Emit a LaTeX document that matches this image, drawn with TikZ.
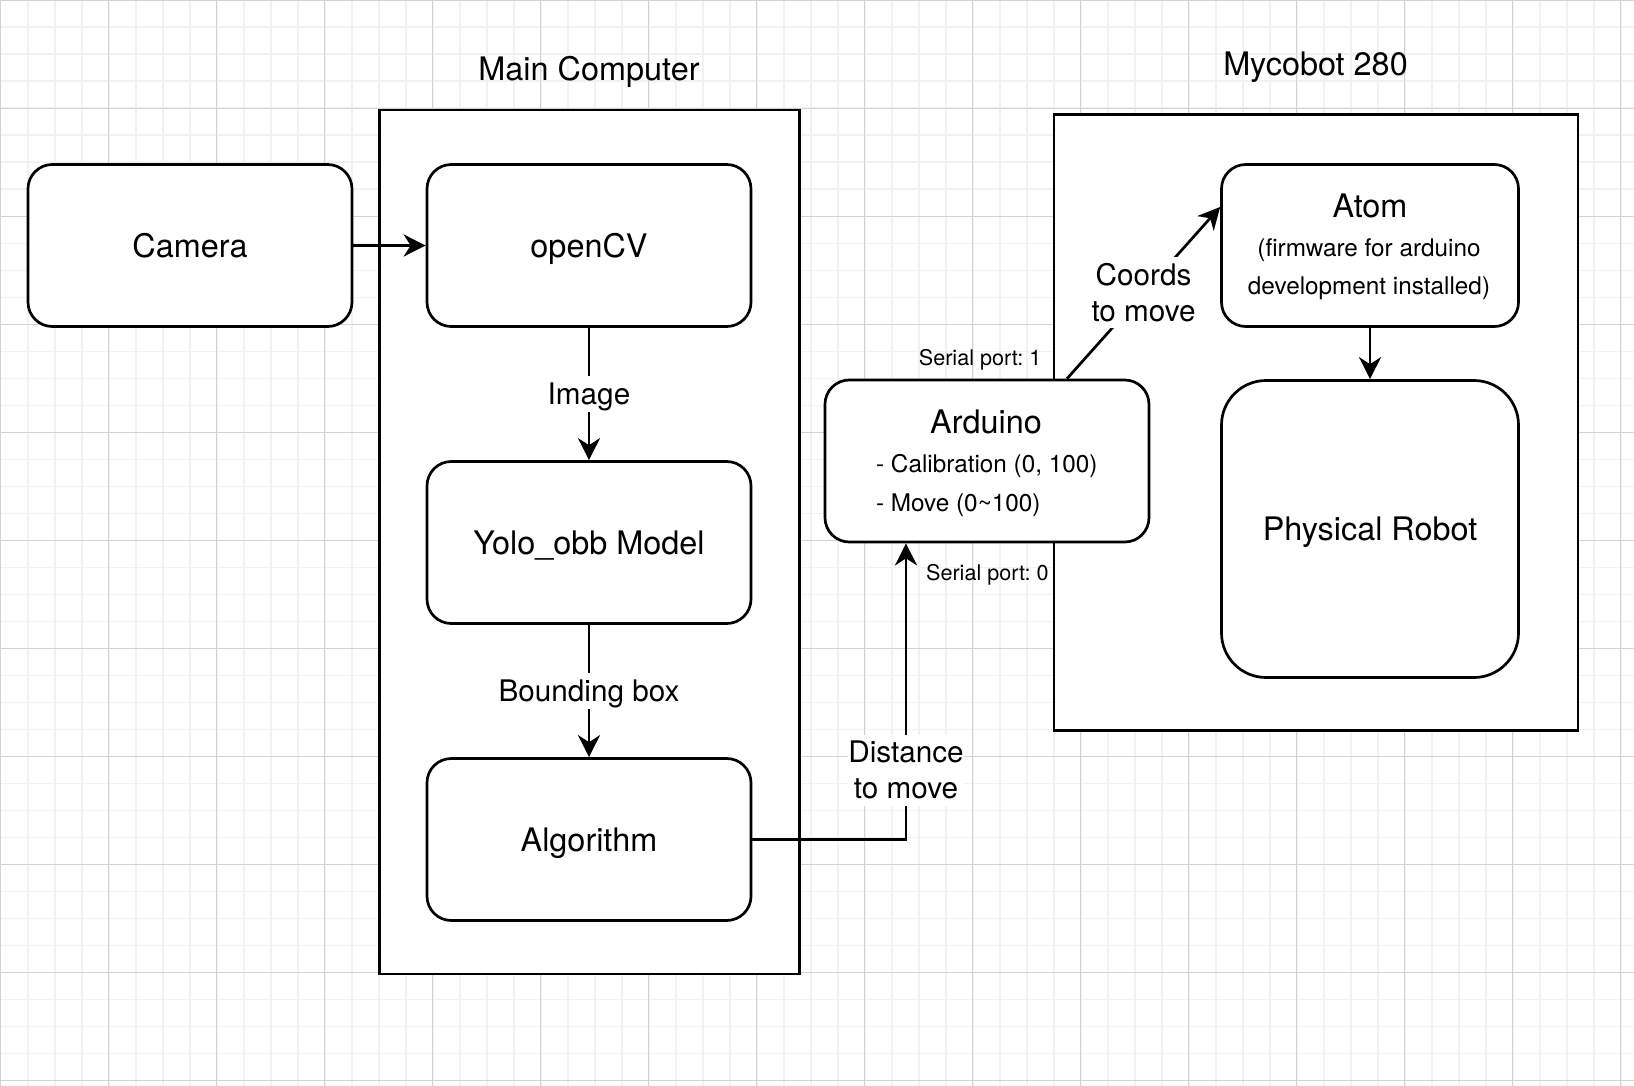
\documentclass[tikz,border=0pt]{standalone}
\usepackage{fontspec}
\setmainfont{TeX Gyre Heros}
\usetikzlibrary{arrows.meta,calc}
\newcommand{\fA}{\fontsize{16.2}{19.44}\selectfont}
\newcommand{\fB}{\fontsize{14.85}{17.82}\selectfont}
\newcommand{\fC}{\fontsize{12.15}{14.58}\selectfont}
\newcommand{\fD}{\fontsize{10.8}{12.96}\selectfont}
\newcommand{\ls}{\rule[-0.25em]{0pt}{1.2em}}
\newcommand{\lbltext}[1]{{\renewcommand{\arraystretch}{0}\begin{tabular}{@{}c@{}}#1\end{tabular}}}
\definecolor{gridminor}{HTML}{F2F2F2}
\definecolor{gridmajor}{HTML}{D3D3D3}
\begin{document}
\frenchspacing
\begin{tikzpicture}[x=0.5pt,y=-0.5pt,
  box/.style={draw, line width=1.35pt, fill=white, rounded corners=12.15pt,
    minimum width=162pt, minimum height=81pt, font=\fA,
    text height=11.6pt, text depth=0pt},
  container/.style={draw, line width=1.35pt, fill=white},
  arr/.style={line width=1.35pt, -{Stealth[length=11pt,width=11pt,inset=3.5pt]}},
  lbl/.style={fill=white, inner sep=0pt, font=\fB},
  title/.style={font=\fA, anchor=base, inner sep=0pt},
  small/.style={font=\fC, inner sep=0pt},
  tiny/.style={font=\fD, inner sep=0pt}
]
\useasboundingbox (0,0) rectangle (1634,1086);
\fill[white] (0,0) rectangle (1634,1086);
% grid
\foreach \k in {0,...,60} \draw[gridminor, line width=0.8pt] ({0.7+27*\k},0) -- ({0.7+27*\k},1086);
\foreach \k in {0,...,40} \draw[gridminor, line width=0.8pt] (0,{0.3+27*\k}) -- (1634,{0.3+27*\k});
\foreach \k in {0,...,15} \draw[gridmajor, line width=0.5pt] ({0.7+108*\k},0) -- ({0.7+108*\k},1086);
\foreach \k in {0,...,10} \draw[gridmajor, line width=0.5pt] (0,{0.3+108*\k}) -- (1634,{0.3+108*\k});

% containers
\node[container, minimum width=210pt, minimum height=432pt] (mc) at (589.5,542) {};
\node[container, minimum width=262pt, minimum height=308pt] (myc) at (1316,422.5) {};
\node[title] (mctitle) at (589,81) {Main Computer};
\node[title] (myctitle) at (1315.5,76) {Mycobot 280};

% boxes
\node[box] (cam) at (190,245.5) {Camera};
\node[box] (cv) at (589,245.5) {openCV};
\node[box] (yolo) at (589,542.5) {Yolo\_obb Model};
\node[box] (alg) at (589,839.5) {Algorithm};
\node[box] (ard) at (987,461) {};
\node[box, minimum width=148.5pt] (atom) at (1370,245.5) {};
\node[box, minimum width=148.5pt, minimum height=148.5pt, rounded corners=22.3pt] (robot) at (1370,529) {Physical Robot};

% multi-line box texts
\node[title] (ardt) at (986,433.3) {Arduino};
\node[small, anchor=base west] (ard1) at (875.7,472.7) {- Calibration (0, 100)};
\node[small, anchor=base west] (ard2) at (875.7,511) {- Move (0\textasciitilde100)};
\node[title] (atomt) at (1370,217.3) {Atom};
\node[small, anchor=base] (atom1) at (1369,256.7) {(firmware for arduino};
\node[small, anchor=base] (atom2) at (1369,294) {development installed)};

% connectors
\draw[arr] (cam.east) -- (cv.west);
\draw[arr] (cv.south) -- node[lbl]{\lbltext{\ls Image}} (yolo.north);
\draw[arr] (yolo.south) -- node[lbl]{\lbltext{\ls Bounding box}} (alg.north);
\draw[arr] (alg.east) -| node[lbl, pos=0.617]{\lbltext{\ls Distance\\\ls to move}} ($(ard.south)+(-81,0)$);
\draw[arr] ($(ard.north)+(80,0)$) -- node[lbl]{\lbltext{\ls Coords\\\ls to move}} ($(atom.west)+(0,-38.5)$);
\draw[arr] (atom.south) -- (robot.north);

% port labels
\node[tiny, anchor=base east] (sp1) at (1041.7,365) {Serial port: 1};
\node[tiny, anchor=base west] (sp0) at (925.7,580) {Serial port: 0};
\end{tikzpicture}
\end{document}
